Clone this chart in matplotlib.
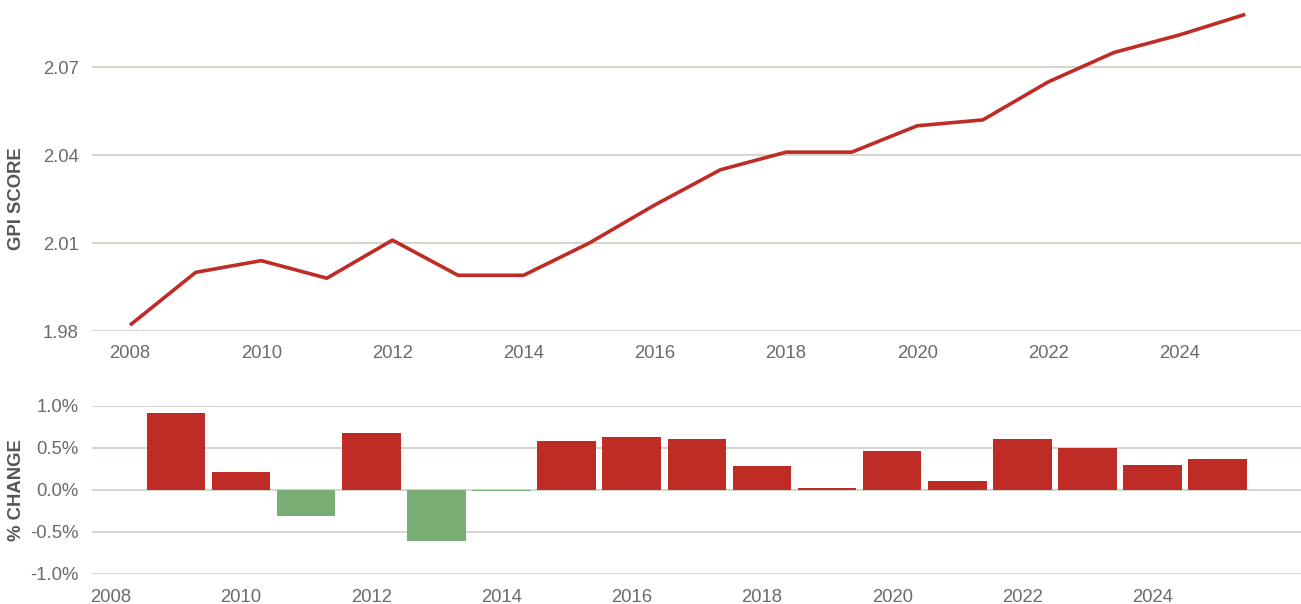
import matplotlib
matplotlib.use("Agg")
import matplotlib.pyplot as plt
from matplotlib.ticker import FuncFormatter

plt.rcParams['font.family'] = ['Liberation Sans', 'DejaVu Sans']

years = list(range(2008, 2026))
gpi_score = [1.982, 2.000, 2.004, 1.998, 2.011, 1.999, 1.999, 2.010, 2.023,
             2.035, 2.041, 2.041, 2.050, 2.052, 2.065, 2.075, 2.081, 2.088]

change_years = list(range(2009, 2026))
pct_change = [0.91, 0.21, -0.31, 0.67, -0.61, -0.02, 0.58, 0.62, 0.60,
              0.28, 0.02, 0.46, 0.10, 0.60, 0.50, 0.29, 0.36]

top_yticks = [1.98, 2.01, 2.04, 2.07]
bottom_yticks = [-1.0, -0.5, 0.0, 0.5, 1.0]
xticks = list(range(2008, 2026, 2))

RED = '#BF2C25'
GREEN = '#78AD74'
GRID = '#D6D6CF'
TXT = '#6B6B6B'

W, H = 1301, 604
fig = plt.figure(figsize=(W / 100, H / 100), dpi=100)

def px_axes(left, top, right, bottom):
    return fig.add_axes([left / W, 1 - bottom / H, (right - left) / W, (bottom - top) / H])

ax1 = px_axes(92, 0, 1301, 331)
ax1.plot(years, gpi_score, color=RED, linewidth=2.6, solid_capstyle='butt', zorder=3)
ax1.set_ylim(1.98, 2.0929)
ax1.set_xlim(2007.42, 2025.85)
ax1.set_yticks(top_yticks)
ax1.set_yticklabels([f"{v:.2f}" for v in top_yticks])
ax1.set_xticks(xticks)

ax2 = px_axes(92, 405.5, 1301, 573.5)
colors = [RED if v >= 0 else GREEN for v in pct_change]
ax2.bar(change_years, pct_change, width=0.9, color=colors, zorder=3)
ax2.set_ylim(-1.0, 1.0)
ax2.set_xlim(2007.71, 2026.28)
ax2.set_yticks(bottom_yticks)
ax2.yaxis.set_major_formatter(FuncFormatter(lambda v, p: f"{v:.1f}%"))
ax2.set_xticks(xticks)

for ax, xpad in ((ax1, 10), (ax2, 11)):
    for s in ax.spines.values():
        s.set_visible(False)
    ax.grid(axis='y', color=GRID, linewidth=1.5, zorder=0)
    ax.set_axisbelow(True)
    ax.tick_params(axis='both', length=0, labelsize=13.3, labelcolor=TXT)
    ax.tick_params(axis='y', pad=9.4)
    ax.tick_params(axis='x', pad=xpad)

fig.text(17 / W, 1 - 199 / H, 'GPI SCORE', rotation=90, ha='center', va='center',
         fontsize=13.3, fontweight='bold', color='#555555')
fig.text(17 / W, 1 - 490 / H, '% CHANGE', rotation=90, ha='center', va='center',
         fontsize=13.3, fontweight='bold', color='#555555')

fig.savefig('out.png', dpi=100)
